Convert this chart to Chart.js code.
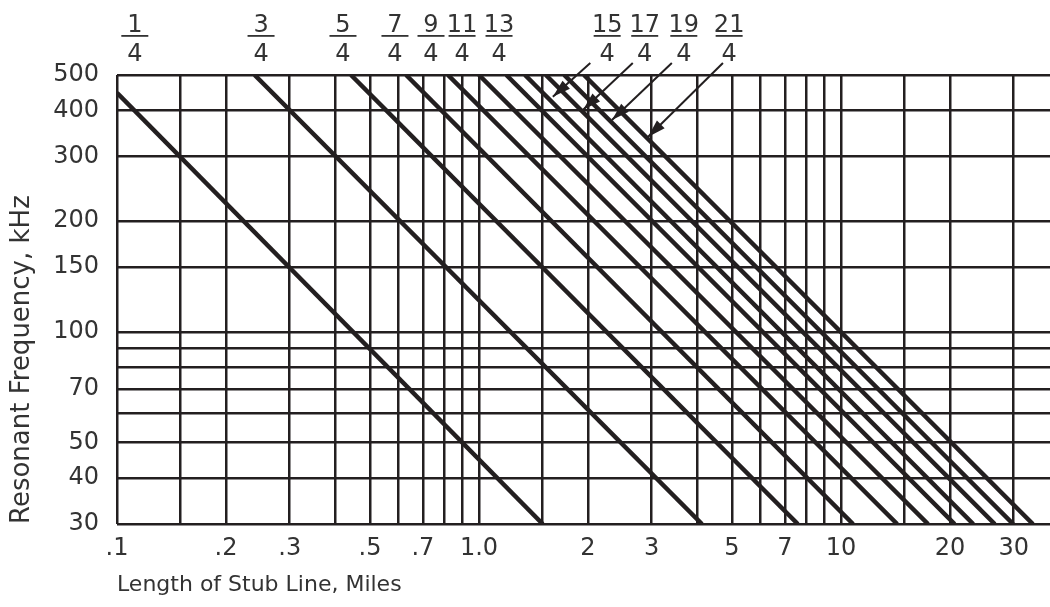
<!DOCTYPE html>
<html>
<head>
<meta charset="utf-8">
<script src="https://cdn.jsdelivr.net/npm/chart.js@4/dist/chart.umd.min.js"></script>
<style>
    html, body { margin: 0; padding: 0; background: #ffffff; }
    #wrap { width: 1050px; height: 607px; }
</style>
</head>
<body>
<div id="wrap"><canvas id="stubChart" width="1050" height="607"></canvas></div>
<script>

const LINE_LABELS = [
    "1/4", "3/4", "5/4", "7/4", "9/4", "11/4",
    "13/4", "15/4", "17/4", "19/4", "21/4"
];

// where each line comes into the grid (left or top edge)
const START_MILES = [0.1, 0.24, 0.443, 0.629, 0.821, 1.0, 1.19, 1.34, 1.53, 1.72, 1.95];
const START_KHZ = [447, 500, 500, 500, 500, 500, 500, 500, 500, 500, 500];

// where each line leaves the grid (bottom edge)
const END_MILES = [1.5, 4.13, 7.6, 10.8, 14.3, 17.4, 20.6, 23.2, 26.6, 29.9, 33.9];
const END_KHZ = [30, 30, 30, 30, 30, 30, 30, 30, 30, 30, 30];

// fraction labels above the grid sit over these lengths
const LABEL_MILES = [0.112, 0.25, 0.421, 0.586, 0.737, 0.898, 1.136, 2.26, 2.87, 3.68, 4.91];

// leader arrows for the crowded lines: tail under the label, head on the line
const ARROW_TAIL_MILES = [2.03, 2.66, 3.41, 4.72];
const ARROW_TAIL_KHZ = [539, 539, 539, 539];
const ARROW_HEAD_MILES = [1.60, 1.94, 2.33, 2.93];
const ARROW_HEAD_KHZ = [436, 402, 377, 339];

const X_GRID = [0.1, 0.15, 0.2, 0.3, 0.4, 0.5, 0.6, 0.7, 0.8, 0.9, 1, 1.5, 2, 3, 4, 5, 6, 7, 8, 9, 10, 15, 20, 30];
const X_TICK_LABELS = [".1", "", ".2", ".3", "", ".5", "", ".7", "", "", "1.0", "", "2", "3", "", "5", "", "7", "", "", "10", "", "20", "30"];

const Y_GRID = [30, 40, 50, 60, 70, 80, 90, 100, 150, 200, 300, 400, 500];
const Y_TICK_LABELS = ["30", "40", "50", "", "70", "", "", "100", "150", "200", "300", "400", "500"];

const INK = "#231f20";
const TEXT = "#333333";
const FONT = "'DejaVu Sans', sans-serif";

const arrowHeads = {
    id: "arrowHeads",
    afterDatasetsDraw(chart) {
        const ctx = chart.ctx;
        chart.data.datasets.forEach((ds, i) => {
            if (!ds.isArrow) {
                return;
            }
            const pts = chart.getDatasetMeta(i).data;
            const tail = pts[0];
            const tip = pts[pts.length - 1];
            const ang = Math.atan2(tip.y - tail.y, tip.x - tail.x);
            ctx.save();
            ctx.translate(tip.x, tip.y);
            ctx.rotate(ang);
            ctx.beginPath();
            ctx.moveTo(0, 0);
            ctx.lineTo(-18, -5.5);
            ctx.lineTo(-18, 5.5);
            ctx.closePath();
            ctx.fillStyle = INK;
            ctx.fill();
            ctx.restore();
        });
    }
};

const fractionLabels = {
    id: "fractionLabels",
    afterDraw(chart) {
        const ctx = chart.ctx;
        const xScale = chart.scales.x;
        const top = chart.chartArea.top;
        ctx.save();
        ctx.font = "24px " + FONT;
        ctx.fillStyle = TEXT;
        ctx.textAlign = "center";
        ctx.textBaseline = "middle";
        LINE_LABELS.forEach((lab, i) => {
            const parts = lab.split("/");
            const cx = xScale.getPixelForValue(LABEL_MILES[i]);
            ctx.fillText(parts[0], cx, top - 49);
            ctx.fillRect(cx - 13.5, top - 40, 27, 1.8);
            ctx.fillText(parts[1], cx, top - 20);
        });
        ctx.restore();
    }
};

function buildDatasets() {

    const lines = LINE_LABELS.map((lab, i) => ({
        label: lab,
        data: [
            { x: START_MILES[i], y: START_KHZ[i] },
            { x: END_MILES[i], y: END_KHZ[i] }
        ],
        showLine: true,
        borderColor: INK,
        borderWidth: 4.5,
        pointRadius: 0
    }));

    const arrows = ARROW_TAIL_MILES.map((m, i) => ({
        label: "arrow " + LINE_LABELS[7 + i],
        isArrow: true,
        data: [
            { x: m, y: ARROW_TAIL_KHZ[i] },
            { x: ARROW_HEAD_MILES[i], y: ARROW_HEAD_KHZ[i] }
        ],
        showLine: true,
        borderColor: INK,
        borderWidth: 2,
        pointRadius: 0,
        clip: false
    }));

    return lines.concat(arrows);
}

function crearGrafico() {

    const ctx = document.getElementById("stubChart");

    new Chart(ctx, {

        type: "scatter",

        data: {
            datasets: buildDatasets()
        },

        options: {
            responsive: false,
            animation: false,
            layout: {
                padding: { top: 75, right: 0, bottom: 0, left: 0 }
            },
            plugins: {
                legend: { display: false },
                tooltip: { enabled: false }
            },
            scales: {
                x: {
                    type: "logarithmic",
                    min: 0.1,
                    max: 37.8,
                    afterBuildTicks(axis) {
                        axis.ticks = X_GRID.map(v => ({ value: v }));
                    },
                    afterFit(axis) {
                        axis.height = 83;
                    },
                    ticks: {
                        autoSkip: false,
                        maxRotation: 0,
                        padding: 10,
                        color: TEXT,
                        font: { size: 24, family: FONT },
                        callback: (v, i) => X_TICK_LABELS[i]
                    },
                    grid: {
                        color: INK,
                        lineWidth: 2.5,
                        drawTicks: false
                    },
                    border: { display: false },
                    title: {
                        display: true,
                        text: "Length of Stub Line, Miles",
                        align: "start",
                        padding: { top: 0, bottom: 9 },
                        color: TEXT,
                        font: { size: 22, family: FONT }
                    }
                },
                y: {
                    type: "logarithmic",
                    min: 30,
                    max: 500,
                    afterBuildTicks(axis) {
                        axis.ticks = Y_GRID.map(v => ({ value: v }));
                    },
                    afterFit(axis) {
                        axis.width = 117;
                    },
                    ticks: {
                        autoSkip: false,
                        padding: 18,
                        color: TEXT,
                        font: { size: 24, family: FONT },
                        callback: (v, i) => Y_TICK_LABELS[i]
                    },
                    grid: {
                        color: INK,
                        lineWidth: 2.5,
                        drawTicks: false
                    },
                    border: { display: false },
                    title: {
                        display: true,
                        text: "Resonant Frequency, kHz",
                        align: "start",
                        padding: { top: 7, bottom: 0 },
                        color: TEXT,
                        font: { size: 26, family: FONT }
                    }
                }
            }
        },

        plugins: [arrowHeads, fractionLabels]

    });
}

crearGrafico();

</script>
</body>
</html>
